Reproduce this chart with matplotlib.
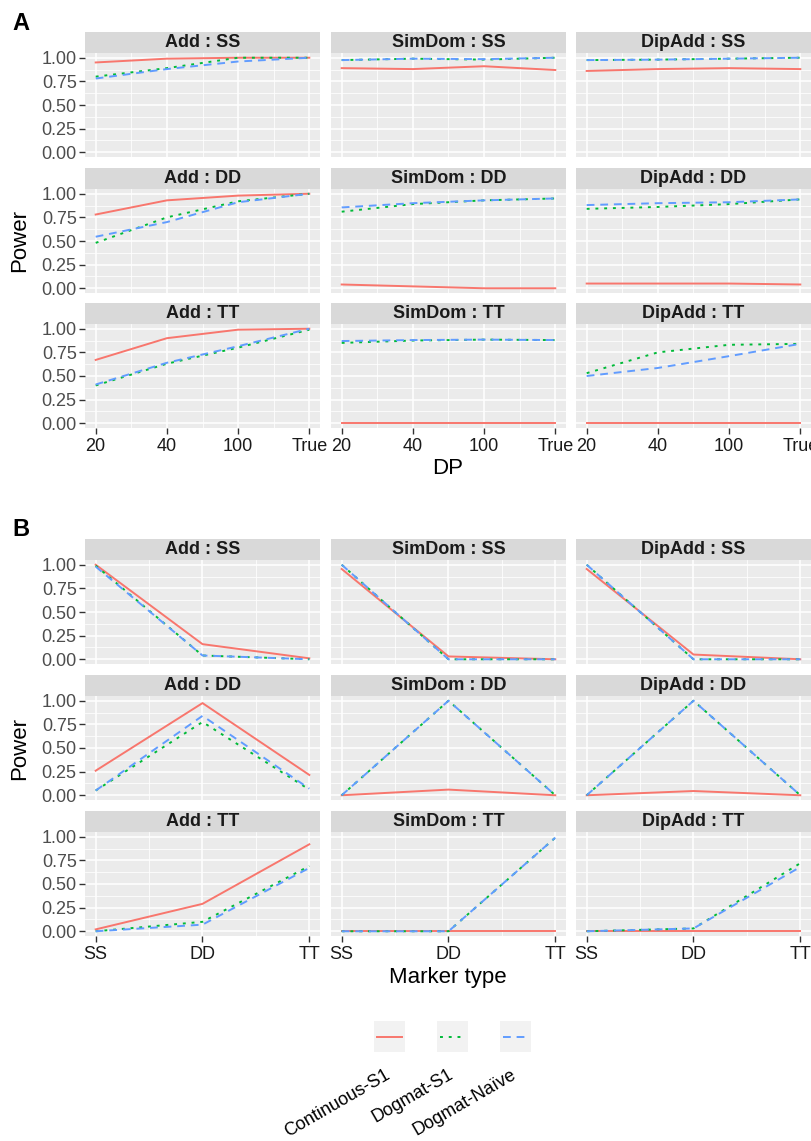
import matplotlib
matplotlib.use('Agg')
import matplotlib.pyplot as plt

plt.rcParams['font.family'] = ['Liberation Sans', 'DejaVu Sans']

models = ['Add', 'SimDom', 'DipAdd']
genotypes = ['SS', 'DD', 'TT']
methods = ['Continuous-S1', 'Dogmat-S1', 'Dogmat-Naïve']
dp_labels = ['20', '40', '100', 'True']
marker_labels = ['SS', 'DD', 'TT']

# Panel A: power vs DP. Facet order: Add:SS, SimDom:SS, DipAdd:SS, Add:DD, ... DipAdd:TT
a_continuous = [
    [0.95, 0.99, 1.00, 1.00],
    [0.89, 0.88, 0.91, 0.87],
    [0.86, 0.88, 0.89, 0.88],
    [0.78, 0.93, 0.98, 1.00],
    [0.04, 0.02, 0.00, 0.00],
    [0.05, 0.05, 0.05, 0.04],
    [0.67, 0.90, 0.99, 1.00],
    [0.00, 0.00, 0.00, 0.00],
    [0.00, 0.00, 0.00, 0.00],
]
a_dogmat_s1 = [
    [0.80, 0.89, 1.00, 1.00],
    [0.975, 0.99, 0.98, 1.00],
    [0.975, 0.98, 0.99, 1.00],
    [0.48, 0.75, 0.92, 1.00],
    [0.81, 0.89, 0.93, 0.95],
    [0.84, 0.86, 0.89, 0.94],
    [0.40, 0.63, 0.80, 0.99],
    [0.85, 0.875, 0.885, 0.88],
    [0.53, 0.75, 0.83, 0.84],
]
a_dogmat_naive = [
    [0.78, 0.88, 0.96, 1.00],
    [0.975, 0.99, 0.985, 1.00],
    [0.975, 0.98, 0.99, 1.00],
    [0.545, 0.70, 0.91, 1.00],
    [0.855, 0.90, 0.93, 0.95],
    [0.88, 0.90, 0.91, 0.94],
    [0.41, 0.64, 0.815, 1.00],
    [0.87, 0.88, 0.885, 0.88],
    [0.50, 0.585, 0.71, 0.84],
]

# Panel B: power vs marker type, same facet order
b_continuous = [
    [1.00, 0.16, 0.01],
    [0.955, 0.03, 0.00],
    [0.955, 0.05, 0.00],
    [0.26, 0.975, 0.215],
    [0.00, 0.06, 0.00],
    [0.00, 0.045, 0.00],
    [0.02, 0.29, 0.92],
    [0.00, 0.00, 0.00],
    [0.00, 0.00, 0.00],
]
b_dogmat_s1 = [
    [0.99, 0.04, 0.00],
    [1.00, 0.00, 0.00],
    [1.00, 0.00, 0.00],
    [0.05, 0.775, 0.06],
    [0.00, 1.00, 0.00],
    [0.00, 1.00, 0.00],
    [0.00, 0.10, 0.69],
    [0.00, 0.00, 0.99],
    [0.00, 0.03, 0.72],
]
b_dogmat_naive = [
    [0.98, 0.04, 0.00],
    [1.00, 0.00, 0.00],
    [1.00, 0.00, 0.00],
    [0.05, 0.84, 0.07],
    [0.00, 1.00, 0.00],
    [0.00, 1.00, 0.00],
    [0.00, 0.07, 0.67],
    [0.00, 0.00, 0.99],
    [0.00, 0.03, 0.68],
]

colors = ['#F8766D', '#00BA38', '#619CFF']
styles = ['-', (0, (1.5, 3)), (0, (4, 3))]

W, H = 812, 1141
fig = plt.figure(figsize=(W / 100, H / 100), dpi=100)


def px_axes(left, top, w, h):
    return fig.add_axes([left / W, 1 - (top + h) / H, w / W, h / H])


def ftext(x, y, s, **kw):
    fig.text(x / W, 1 - y / H, s, **kw)


col_left = [85, 331, 576]
panel_w = 235
strip_h = 21
panel_h = 104


def draw_block(strip_tops, series, xlabels):
    n = len(xlabels)
    xs = list(range(n))
    pad = 0.05 * (n - 1)
    for r in range(3):
        for c in range(3):
            k = r * 3 + c
            top = strip_tops[r]
            sax = px_axes(col_left[c], top, panel_w, strip_h)
            sax.set_facecolor('#D9D9D9')
            sax.set_xticks([])
            sax.set_yticks([])
            for sp in sax.spines.values():
                sp.set_visible(False)
            sax.text(0.5, 0.5, f'{models[c]} : {genotypes[r]}', ha='center', va='center',
                     fontsize=13, fontweight='bold', color='#1A1A1A', transform=sax.transAxes)

            ax = px_axes(col_left[c], top + strip_h, panel_w, panel_h)
            ax.set_facecolor('#EBEBEB')
            for sp in ax.spines.values():
                sp.set_visible(False)
            ax.set_xlim(-pad, n - 1 + pad)
            ax.set_ylim(-0.05, 1.05)
            ax.set_xticks(xs)
            ax.set_yticks([0, 0.25, 0.5, 0.75, 1.0])
            ax.set_xticks([i + 0.5 for i in range(n - 1)], minor=True)
            ax.set_yticks([0.125, 0.375, 0.625, 0.875], minor=True)
            ax.grid(which='major', color='white', lw=1.1)
            ax.grid(which='minor', color='white', lw=0.55)
            ax.set_axisbelow(True)
            ax.tick_params(which='minor', length=0)
            ax.tick_params(which='major', length=4, width=1, color='#333333')
            if c == 0:
                ax.set_yticklabels(['0.00', '0.25', '0.50', '0.75', '1.00'],
                                   fontsize=13, color='#4D4D4D')
                ax.tick_params(axis='y', pad=2)
            else:
                ax.tick_params(axis='y', length=0, labelleft=False)
            if r == 2:
                ax.set_xticklabels(xlabels, fontsize=13, color='#1A1A1A')
                ax.tick_params(axis='x', pad=3)
            else:
                ax.tick_params(axis='x', length=0, labelbottom=False)
            for vals, col, ls in zip(series, colors, styles):
                ax.plot(xs, vals[k], color=col, ls=ls, lw=1.4)


draw_block([32, 168, 303], [a_continuous, a_dogmat_s1, a_dogmat_naive], dp_labels)
draw_block([539, 675, 811], [b_continuous, b_dogmat_s1, b_dogmat_naive], marker_labels)

ftext(21, 23, 'A', fontsize=17, fontweight='bold', ha='center', va='center')
ftext(21, 530, 'B', fontsize=17, fontweight='bold', ha='center', va='center')
ftext(20, 241, 'Power', fontsize=16, rotation=90, ha='center', va='center')
ftext(20, 748, 'Power', fontsize=16, rotation=90, ha='center', va='center')
ftext(448, 468, 'DP', fontsize=16, ha='center', va='center')
ftext(448, 977, 'Marker type', fontsize=16, ha='center', va='center')

# legend
key_left = [374, 437, 500]
for i, m in enumerate(methods):
    kax = px_axes(key_left[i], 1021, 31, 31)
    kax.set_facecolor('#F2F2F2')
    kax.set_xlim(0, 1)
    kax.set_ylim(0, 1)
    kax.set_xticks([])
    kax.set_yticks([])
    for sp in kax.spines.values():
        sp.set_visible(False)
    kax.plot([0.1, 0.9], [0.5, 0.5], color=colors[i], ls=styles[i], lw=1.4)
    ftext(key_left[i] + 19, 1066, m, fontsize=13, rotation=30, ha='right', va='top')

fig.savefig('out.png', dpi=100)
